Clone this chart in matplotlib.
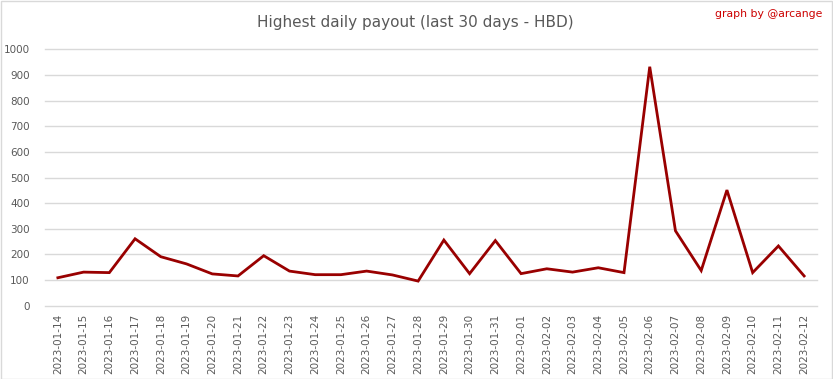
import matplotlib
matplotlib.use("Agg")
import matplotlib.pyplot as plt
from matplotlib.patches import Rectangle

dates = ["2023-01-14", "2023-01-15", "2023-01-16", "2023-01-17", "2023-01-18", "2023-01-19",
         "2023-01-20", "2023-01-21", "2023-01-22", "2023-01-23", "2023-01-24", "2023-01-25",
         "2023-01-26", "2023-01-27", "2023-01-28", "2023-01-29", "2023-01-30", "2023-01-31",
         "2023-02-01", "2023-02-02", "2023-02-03", "2023-02-04", "2023-02-05", "2023-02-06",
         "2023-02-07", "2023-02-08", "2023-02-09", "2023-02-10", "2023-02-11", "2023-02-12"]
payout = [109, 131, 129, 261, 191, 163, 124, 116, 195, 135, 121, 121, 135, 120, 96,
          256, 125, 254, 125, 144, 131, 148, 129, 932, 292, 137, 451, 129, 233, 116]
y_ticks = [0, 100, 200, 300, 400, 500, 600, 700, 800, 900, 1000]

W, H = 833, 379
fig = plt.figure(figsize=(W / 100, H / 100), dpi=100)
ax = fig.add_axes([45 / W, 1 - 305.7 / H, (817 - 45) / W, (305.7 - 49.3) / H])

x = list(range(len(dates)))
for v in y_ticks:
    ax.axhline(v, color="#d9d9d9", linewidth=1.0, clip_on=False, zorder=0)
ax.plot(x, payout, color="#990000", linewidth=2.0, solid_joinstyle="miter", zorder=3)
ax.set_xlim(-0.5, len(dates) - 0.5)
ax.set_ylim(0, 1000)
ax.set_yticks(y_ticks)
ax.set_yticklabels([str(v) for v in y_ticks])
ax.set_xticks(x)
ax.set_xticklabels(dates, rotation=90)
for s in ax.spines.values():
    s.set_visible(False)
ax.tick_params(axis="both", length=0, colors="#595959", labelsize=7.5)
ax.tick_params(axis="y", pad=11)
ax.tick_params(axis="x", pad=6)

fig.text(0.5 * (263 + 568) / W, 1 - 23 / H, "Highest daily payout (last 30 days - HBD)",
         ha="center", va="center", fontsize=11, color="#595959")
fig.text(822 / W, 1 - 14 / H, "graph by @arcange", ha="right", va="center",
         fontsize=7.8, color="#cc0000")

fig.patches.append(Rectangle((0.5 / W, 0.5 / H), (W - 1.5) / W, (H - 1.5) / H,
                             transform=fig.transFigure, fill=False,
                             edgecolor="#d9d9d9", linewidth=1.0))
fig.savefig("out.png", dpi=100, facecolor="white")
